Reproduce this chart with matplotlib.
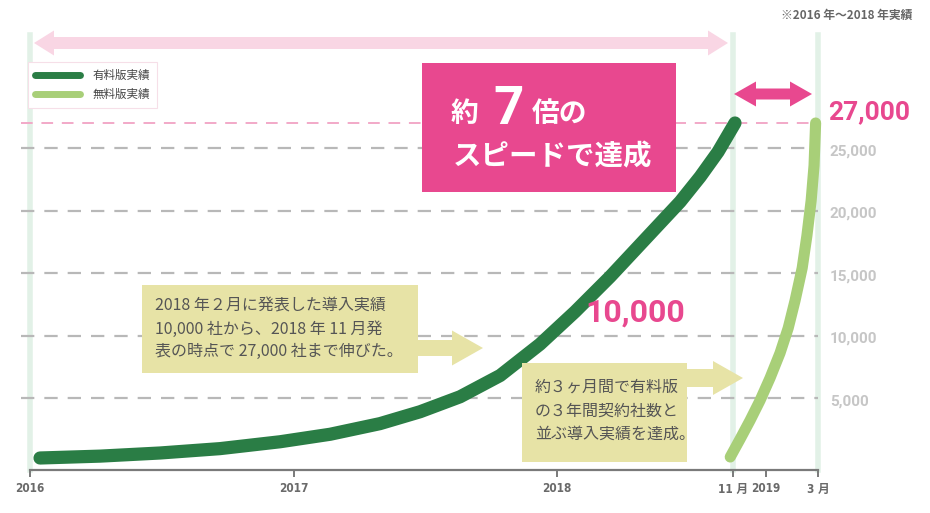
import numpy as np
import matplotlib
matplotlib.use("Agg")
import matplotlib.pyplot as plt
import matplotlib.patches as mpatches
from matplotlib.lines import Line2D

plt.rcParams['font.family'] = ['Noto Sans CJK JP', 'DejaVu Sans']

# ---- data (x in chart units, 2016 = 0, 2017 = 1, 2018 = 2; the last part is not to scale)
tick_labels = ["2016", "2017", "2018", "11 月", "2019", "3 月"]
tick_pos = [0, 1, 2, 2.668, 2.793, 2.99]

paid_x = [0.038, 0.266, 0.493, 0.721, 0.949, 1.139, 1.328, 1.480, 1.632, 1.784,
          1.935, 2.068, 2.201, 2.334, 2.467, 2.543, 2.611, 2.675]
paid_y = [200, 350, 600, 950, 1500, 2100, 2950, 3900, 5100, 6800,
          9300, 11900, 14700, 17700, 20700, 22700, 24700, 27000]

free_x = [2.657, 2.694, 2.732, 2.770, 2.808, 2.846, 2.877, 2.903, 2.930,
          2.948, 2.964, 2.975, 2.981]
free_y = [280, 1700, 3200, 4800, 6600, 8600, 10600, 12800, 15400,
          18000, 20800, 23600, 27000]

grid_vals = [5000, 10000, 15000, 20000, 25000]
target = 27000
milestone = 10000

paid_label = "有料版実績"
free_label = "無料版実績"

DARK_GREEN = "#2a7d45"
LIGHT_GREEN = "#a8cf78"
PINK = "#e8488f"
KHAKI = "#e7e3a6"
TXT = "#555555"

W, H = 930, 513
fig = plt.figure(figsize=(W / 100, H / 100), dpi=100)

# main axes: 2016 at px 30, 3月 at px 818, top px 35, axis line px 470
ax = fig.add_axes([30 / W, 1 - 470 / H, (818 - 30) / W, (470 - 35) / H])
ax.patch.set_alpha(0)
ax.set_xlim(0, tick_pos[-1])
ax.set_ylim(-760, 34040)

for s in ["top", "right", "left"]:
    ax.spines[s].set_visible(False)
ax.spines["bottom"].set_color("#7a7a7a")
ax.spines["bottom"].set_linewidth(1.6)
ax.set_yticks([])
ax.set_xticks(tick_pos)
ax.set_xticklabels(tick_labels)
ax.tick_params(axis="x", direction="out", length=5, width=1.4, color="#7a7a7a",
               pad=4, labelsize=8.5, labelcolor="#6a6a6a")
for lab in ax.get_xticklabels():
    lab.set_fontweight("bold")
    lab.set_family(["DejaVu Sans", "Noto Sans CJK JP"])
    lab.set_fontstretch("condensed")

# pale vertical guide lines
for xv in [tick_pos[0], tick_pos[3], tick_pos[5]]:
    ax.axvline(xv, color="#e2f1e7", lw=4, zorder=1, clip_on=False)

# dashed grid + target line
for gv in grid_vals:
    ax.axhline(gv, xmin=-0.012, xmax=1.0, color="#b8b8b8", lw=1.6,
               dashes=(6, 4.5), zorder=1, clip_on=False)
    ax.text(1.015, gv - 250, f"{gv:,}", transform=ax.get_yaxis_transform(),
            ha="left", va="center", fontsize=11, fontweight="bold",
            color="#c6c6c6", family="Roboto")
ax.axhline(target, xmin=-0.012, xmax=1.0, color="#f2a9c8", lw=1.4,
           dashes=(6, 4.5), zorder=1, clip_on=False)
ax.text(1.013, target + 900, f"{target:,}", transform=ax.get_yaxis_transform(),
        ha="left", va="center", fontsize=19, fontweight="bold",
        color=PINK, family="Roboto")

# curves
ax.plot(paid_x, paid_y, color=DARK_GREEN, lw=9.5, solid_capstyle="round",
        solid_joinstyle="round", zorder=3, clip_on=False)
ax.plot(free_x, free_y, color=LIGHT_GREEN, lw=8, solid_capstyle="round",
        solid_joinstyle="round", zorder=3, clip_on=False)

ax.text(2.107, milestone + 1800, f"{milestone:,}", ha="left", va="center",
        fontsize=23, fontweight="bold", color=PINK, family="Roboto", zorder=4)

# legend
handles = [Line2D([], [], color=DARK_GREEN, lw=5, solid_capstyle="round"),
           Line2D([], [], color=LIGHT_GREEN, lw=5, solid_capstyle="round")]
leg = ax.legend(handles, [paid_label, free_label], loc="upper left",
                bbox_to_anchor=(28 / W, 1 - 62 / H), bbox_transform=fig.transFigure,
                fontsize=8.3, handlelength=3.9, handletextpad=1.1, labelspacing=0.5,
                borderpad=0.6, borderaxespad=0, fancybox=False, framealpha=1,
                edgecolor="#f6dfe8")
leg.get_frame().set_linewidth(0.8)
for t in leg.get_texts():
    t.set_color("#444444")

# ---- overlay in pixel coordinates for callouts
ov = fig.add_axes([0, 0, 1, 1])
ov.set_xlim(0, W)
ov.set_ylim(H, 0)
ov.axis("off")
ov.set_zorder(5)


def block_arrow(x0, x1, y, shaft, head, head_len, color, double=False):
    h1, h2 = shaft / 2, head / 2
    if double:
        pts = [(x0, y), (x0 + head_len, y - h2), (x0 + head_len, y - h1),
               (x1 - head_len, y - h1), (x1 - head_len, y - h2), (x1, y),
               (x1 - head_len, y + h2), (x1 - head_len, y + h1),
               (x0 + head_len, y + h1), (x0 + head_len, y + h2)]
    else:
        pts = [(x0, y - h1), (x1 - head_len, y - h1), (x1 - head_len, y - h2),
               (x1, y), (x1 - head_len, y + h2), (x1 - head_len, y + h1), (x0, y + h1)]
    ov.add_patch(mpatches.Polygon(pts, closed=True, color=color, lw=0))


block_arrow(34, 728, 43, 12, 25, 20, "#f9d6e4", double=True)
block_arrow(734, 812, 94, 11, 25, 22, PINK, double=True)

# pink headline box
ov.add_patch(mpatches.Rectangle((422, 63), 254, 129, color=PINK, lw=0))
ov.text(464, 114, "約", color="white", fontsize=20, fontweight="bold", ha="center", va="center")
ov.text(509, 109, "7", color="white", fontsize=38, fontweight="bold", ha="center",
        va="center", family="Roboto")
ov.text(560, 114, "倍の", color="white", fontsize=20, fontweight="bold", ha="center", va="center")
ov.text(553, 157, "スピードで達成", color="white", fontsize=20.5, fontweight="bold",
        ha="center", va="center")

# callout 1
ov.add_patch(mpatches.Rectangle((142, 285), 276, 88, color=KHAKI, lw=0))
block_arrow(417, 483, 348, 16, 35, 31, KHAKI)
ov.text(155, 329, "2018 年２月に発表した導入実績\n10,000 社から、2018 年 11 月発\n表の時点で 27,000 社まで伸びた。",
        color=TXT, fontsize=11.5, ha="left", va="center", linespacing=1.45)

# callout 2
ov.add_patch(mpatches.Rectangle((522, 363), 165, 99, color=KHAKI, lw=0))
block_arrow(686, 743, 378, 18, 34, 30, KHAKI)
ov.text(535, 411, "約３ヶ月間で有料版\nの３年間契約社数と\n並ぶ導入実績を達成。",
        color=TXT, fontsize=11.5, ha="left", va="center", linespacing=1.5)

# footnote
fig.text(912 / W, 1 - 15 / H, "※2016 年～2018 年実績", ha="right", va="center",
         fontsize=8.5, fontweight="bold", color="#666666")

fig.savefig("out.png", dpi=100)
